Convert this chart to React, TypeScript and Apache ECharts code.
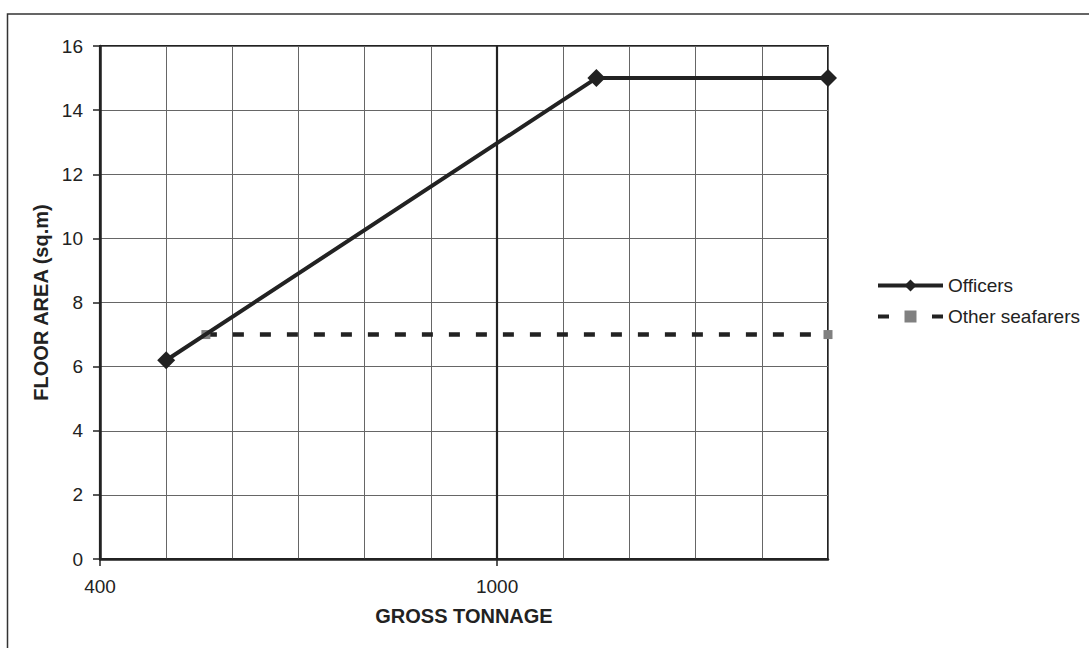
import React, { useEffect, useRef } from "react";
import * as echarts from "echarts";

const officersX = [500, 1150, 1500];
const officersY = [6.2, 15, 15];
const othersX = [560, 1500];
const othersY = [7, 7];
const xTickLabels = [400, 1000];
const seriesNames = ["Officers", "Other seafarers"];

const FONT = "'Liberation Sans', Arial, sans-serif";
const INK = "#222222";
const GRID = "#666666";

export default function App() {
  const ref = useRef<HTMLDivElement>(null);
  useEffect(() => {
    if (!ref.current) return;
    const chart = echarts.init(ref.current, null, { renderer: "svg" });
    const officers = officersX.map((x, i) => [x, officersY[i]]);
    const others = othersX.map((x, i) => [x, othersY[i]]);
    chart.setOption({
      animation: false,
      backgroundColor: "#ffffff",
      textStyle: { fontFamily: FONT, color: INK },
      graphic: [
        {
          type: "rect",
          silent: true,
          shape: { x: 7.5, y: 14, width: 1200, height: 800 },
          style: { fill: "none", stroke: "#333", lineWidth: 1.5 },
        },
      ],
      grid: {
        left: 100,
        right: 261,
        top: 46,
        bottom: 89,
        show: true,
        borderColor: INK,
        borderWidth: 2,
        backgroundColor: "transparent",
      },
      legend: {
        orient: "vertical",
        left: 871,
        top: 271,
        itemWidth: 65,
        itemHeight: 15,
        itemGap: 12,
        lineStyle: { width: 4 },
        textStyle: { fontFamily: FONT, fontSize: 19, color: INK },
        data: seriesNames,
      },
      xAxis: [
        {
          type: "value",
          min: 400,
          max: 1500,
          interval: 100,
          z: 2,
          name: "GROSS TONNAGE",
          nameLocation: "middle",
          nameGap: 47,
          nameTextStyle: { fontFamily: FONT, fontSize: 20, fontWeight: "bold", color: INK },
          axisLine: { show: true, lineStyle: { color: INK, width: 2.5 } },
          axisTick: {
            show: true,
            inside: false,
            length: 7,
            customValues: xTickLabels,
            lineStyle: { color: INK, width: 1.5 },
          },
          axisLabel: {
            customValues: xTickLabels,
            formatter: (v: number) => String(v),
            fontFamily: FONT,
            fontSize: 19,
            color: INK,
            margin: 18,
          },
          splitLine: { show: true, lineStyle: { color: INK, width: 2.2 } },
        },
        {
          type: "value",
          min: 400,
          max: 1500,
          interval: 100,
          position: "top",
          z: 0,
          axisLine: { show: false },
          axisTick: { show: false },
          axisLabel: { show: false },
          splitLine: { show: true, lineStyle: { color: GRID, width: 1 } },
        },
      ],
      yAxis: {
        type: "value",
        min: 0,
        max: 16,
        interval: 2,
        z: 1,
        name: "FLOOR AREA (sq.m)",
        nameLocation: "middle",
        nameGap: 46,
        nameTextStyle: { fontFamily: FONT, fontSize: 20, fontWeight: "bold", color: INK },
        axisLine: { show: true, lineStyle: { color: INK, width: 2.5 } },
        axisTick: { show: true, inside: false, length: 7, lineStyle: { color: INK, width: 1.5 } },
        axisLabel: { fontFamily: FONT, fontSize: 19, color: INK, margin: 17 },
        splitLine: { show: true, lineStyle: { color: GRID, width: 1 } },
      },
      series: [
        {
          name: seriesNames[0],
          type: "line",
          xAxisIndex: 0,
          data: officers,
          symbol: "diamond",
          symbolSize: 18,
          z: 5,
          lineStyle: { color: INK, width: 4 },
          itemStyle: { color: INK },
        },
        {
          name: seriesNames[1],
          type: "line",
          xAxisIndex: 0,
          data: others,
          symbol: "rect",
          symbolSize: 9,
          z: 4,
          lineStyle: { color: INK, width: 4.5, type: [11, 16] },
          itemStyle: { color: "#808080" },
        },
      ],
    });
    return () => chart.dispose();
  }, []);
  return (
    <div
      ref={ref}
      style={{ position: "absolute", left: 0, top: 0, width: 1089, height: 648 }}
    />
  );
}
